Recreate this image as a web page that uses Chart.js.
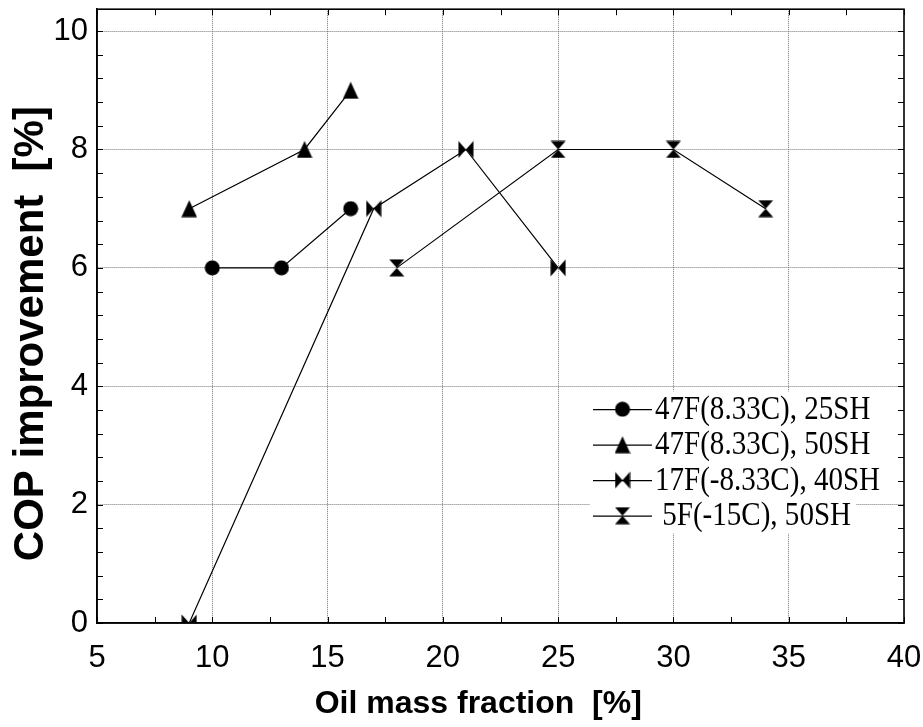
<!DOCTYPE html>
<html>
<head>
<meta charset="utf-8">
<script src="https://cdn.jsdelivr.net/npm/chart.js@4/dist/chart.umd.min.js"></script>
<style>
  body { margin: 0; background: #fff; }
  #contenedor { width: 923px; height: 727px; }
</style>
</head>
<body>
<div id="contenedor"><canvas id="graficoCOP"></canvas></div>
<script>
// =====================
// Datos
// =====================
const etiquetas = ["47F(8.33C), 25SH", "47F(8.33C), 50SH", "17F(-8.33C), 40SH", " 5F(-15C), 50SH"];

const aceite47_25 = [10, 13, 16];
const cop47_25    = [6, 6, 7];

const aceite47_50 = [9, 14, 16];
const cop47_50    = [7, 8, 9];

const aceite17_40 = [9, 17, 21, 25];
const cop17_40    = [0, 7, 8, 6];

const aceite5_50  = [18, 25, 30, 34];
const cop5_50     = [6, 8, 8, 7];

// ejes
const xMin = 5, xMax = 40, xMayor = 5, xMenor = 2.5;
const yMin = 0, yMax = 10.37, yMayor = 2, yMenor = 0.4;

const fuenteEje = '"Liberation Sans", Arial, sans-serif';
const fuenteTitulo = '"Liberation Sans", Arial, sans-serif';

function esMultiplo(v, paso) {
    return Math.abs(v / paso - Math.round(v / paso)) < 1e-6;
}

function puntos(xs, ys) {
    return xs.map((x, i) => ({ x: x, y: ys[i] }));
}

// marcadores dibujados a mano (círculo, triángulo, moño, reloj de arena)
function marcador(tipo) {
    const c = document.createElement("canvas");
    c.width = 16;
    c.height = tipo === "circulo" ? 16 : 18;
    const g = c.getContext("2d");
    g.fillStyle = "#000";
    g.beginPath();
    if (tipo === "circulo") {
        g.arc(8, 8, 7.5, 0, Math.PI * 2);
    } else if (tipo === "triangulo") {
        g.moveTo(8, 0.5); g.lineTo(15.8, 17.5); g.lineTo(0.2, 17.5); g.closePath();
    } else if (tipo === "mono") {
        g.moveTo(0.5, 0.5); g.lineTo(8, 9); g.lineTo(0.5, 17.5); g.closePath();
        g.moveTo(15.5, 0.5); g.lineTo(8, 9); g.lineTo(15.5, 17.5); g.closePath();
    } else {
        g.moveTo(0.5, 0.5); g.lineTo(15.5, 0.5); g.lineTo(8, 9); g.closePath();
        g.moveTo(0.5, 17.5); g.lineTo(15.5, 17.5); g.lineTo(8, 9); g.closePath();
    }
    g.fill();
    return c;
}

function serie(label, xs, ys, tipo) {
    return {
        label: label,
        data: puntos(xs, ys),
        borderColor: "#000",
        backgroundColor: "#000",
        borderWidth: 1.2,
        pointStyle: marcador(tipo),
        pointRadius: 8,
        showLine: true,
        fill: false,
        tension: 0
    };
}

// sin relleno extra por las etiquetas de los extremos
function sinRelleno(s) {
    s.paddingLeft = 0;
    s.paddingRight = 0;
    s.paddingTop = 0;
    s.paddingBottom = 0;
}

// marcas internas y marco completo
const marco = {
    id: "marco",
    beforeDatasetsDraw(chart) {
        const { ctx, chartArea: a, scales } = chart;
        ctx.save();
        ctx.strokeStyle = "#000";
        ctx.lineWidth = 1;
        const largo = 6;
        scales.x.ticks.forEach(t => {
            const px = Math.round(scales.x.getPixelForValue(t.value)) + 0.5;
            ctx.beginPath();
            ctx.moveTo(px, a.bottom); ctx.lineTo(px, a.bottom - largo);
            ctx.moveTo(px, a.top); ctx.lineTo(px, a.top + largo);
            ctx.stroke();
        });
        scales.y.ticks.forEach(t => {
            const py = Math.round(scales.y.getPixelForValue(t.value)) + 0.5;
            ctx.beginPath();
            ctx.moveTo(a.left, py); ctx.lineTo(a.left + largo, py);
            ctx.moveTo(a.right, py); ctx.lineTo(a.right - largo, py);
            ctx.stroke();
        });
        ctx.lineWidth = 1.6;
        ctx.strokeRect(a.left, a.top, a.right - a.left, a.bottom - a.top);
        ctx.restore();
    }
};

// leyenda dentro del área (línea + marcador + texto)
const leyenda = {
    id: "leyendaInterna",
    afterDraw(chart) {
        const { ctx, chartArea: a } = chart;
        const x0 = a.right - 311;
        const y0 = a.top + 400;
        const paso = 35.5;
        const escala = 0.88;
        ctx.save();
        ctx.font = '33px "Liberation Serif", "Times New Roman", serif';
        ctx.textBaseline = "middle";
        chart.data.datasets.forEach((ds, i) => {
            const y = y0 + i * paso;
            const ancho = ctx.measureText(ds.label).width * escala;
            ctx.fillStyle = "#fff";
            ctx.fillRect(x0 - 3, y - paso / 2, 62 + ancho + 8, paso);
            ctx.strokeStyle = "#000";
            ctx.lineWidth = 1.2;
            ctx.beginPath();
            ctx.moveTo(x0, y + 0.5); ctx.lineTo(x0 + 59, y + 0.5);
            ctx.stroke();
            const m = ds.pointStyle;
            ctx.drawImage(m, x0 + 29.5 - m.width / 2, y - m.height / 2);
            ctx.fillStyle = "#000";
            ctx.save();
            ctx.translate(x0 + 62, y + 1);
            ctx.scale(escala, 1);
            ctx.fillText(ds.label, 0, 0);
            ctx.restore();
        });
        ctx.restore();
    }
};

const ctx = document.getElementById("graficoCOP").getContext("2d");
new Chart(ctx, {
    type: "line",
    data: {
        datasets: [
            serie(etiquetas[0], aceite47_25, cop47_25, "circulo"),
            serie(etiquetas[1], aceite47_50, cop47_50, "triangulo"),
            serie(etiquetas[2], aceite17_40, cop17_40, "mono"),
            serie(etiquetas[3], aceite5_50, cop5_50, "reloj")
        ]
    },
    options: {
        responsive: true,
        maintainAspectRatio: false,
        animation: false,
        layout: { padding: { left: 0, top: 7, right: 19, bottom: 0 } },
        plugins: {
            legend: { display: false },
            tooltip: { enabled: false }
        },
        scales: {
            x: {
                type: "linear",
                min: xMin,
                max: xMax,
                afterFit: s => { s.height = 104; sinRelleno(s); },
                ticks: {
                    stepSize: xMenor,
                    autoSkip: false,
                    maxRotation: 0,
                    padding: 17,
                    color: "#000",
                    font: { family: fuenteEje, size: 31 },
                    callback: v => esMultiplo(v, xMayor) ? v : ""
                },
                grid: {
                    drawTicks: false,
                    lineWidth: 1,
                    color: c => (c.tick && esMultiplo(c.tick.value, xMayor) && c.tick.value > xMin && c.tick.value < xMax) ? "#777" : "rgba(0,0,0,0)"
                },
                border: { display: true, color: "#000", width: 1.6, dash: [1, 1] },
                title: {
                    display: true,
                    text: "Oil mass fraction  [%]     ",
                    color: "#000",
                    font: { family: fuenteTitulo, size: 32, weight: "bold" },
                    padding: { top: 0, bottom: 4 }
                }
            },
            y: {
                min: yMin,
                max: yMax,
                afterFit: s => { s.width = 97; sinRelleno(s); },
                ticks: {
                    stepSize: yMenor,
                    includeBounds: false,
                    autoSkip: false,
                    padding: 9,
                    color: "#000",
                    font: { family: fuenteEje, size: 31 },
                    callback: v => esMultiplo(v, yMayor) ? v : ""
                },
                grid: {
                    drawTicks: false,
                    lineWidth: 1,
                    color: c => (c.tick && esMultiplo(c.tick.value, yMayor) && c.tick.value > yMin) ? "#777" : "rgba(0,0,0,0)"
                },
                border: { display: true, color: "#000", width: 1.6, dash: [1, 1] },
                title: {
                    display: true,
                    text: "COP improvement  [%]   ",
                    color: "#000",
                    font: { family: fuenteTitulo, size: 42, weight: "bold" },
                    padding: { top: 6, bottom: 0 }
                }
            }
        }
    },
    plugins: [marco, leyenda]
});
</script>
</body>
</html>
